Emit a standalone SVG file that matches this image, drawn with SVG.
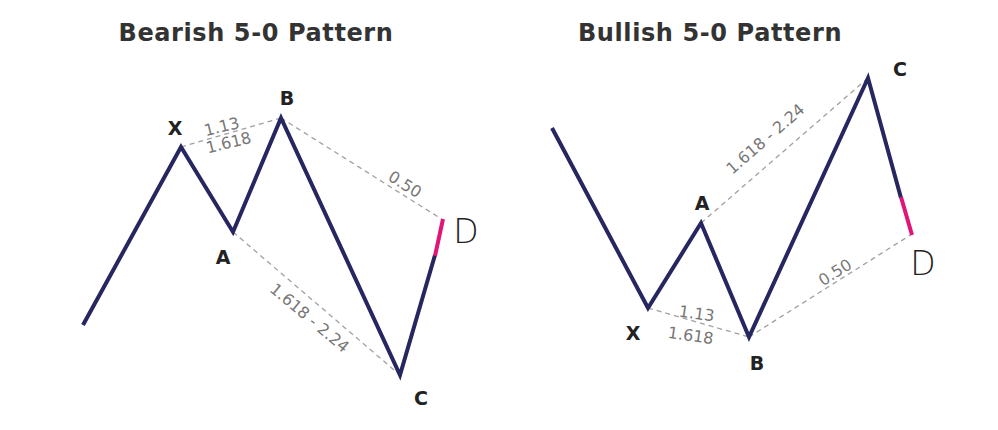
<svg xmlns="http://www.w3.org/2000/svg" width="998" height="430" viewBox="0 0 998 430">
<style>
.title{font-family:"DejaVu Sans",Verdana,sans-serif;font-weight:bold;font-size:24px;letter-spacing:0.6px;fill:#333333;text-anchor:middle}
.pt{font-family:"DejaVu Sans",Verdana,sans-serif;font-weight:bold;font-size:19px;fill:#222;text-anchor:middle}
.d{font-family:"DejaVu Sans",Verdana,sans-serif;font-weight:200;font-size:33px;fill:#222;text-anchor:middle}
.num{font-family:"DejaVu Sans",Verdana,sans-serif;font-size:16px;fill:#777;text-anchor:middle}
.wave{fill:none;stroke:#262660;stroke-width:4;stroke-linejoin:miter;stroke-linecap:butt}
.pink{fill:none;stroke:#e0157a;stroke-width:4}
.dash{fill:none;stroke:#a0a0a0;stroke-width:1.3;stroke-dasharray:5 4}
</style>
<rect width="998" height="430" fill="#ffffff"/>
<text class="title" x="256" y="41">Bearish 5-0 Pattern</text>
<text class="title" x="710" y="41">Bullish 5-0 Pattern</text>
<g id="connectors">
  <line class="dash" x1="181" y1="147" x2="281" y2="118"/>
  <line class="dash" x1="281" y1="118" x2="443" y2="220"/>
  <line class="dash" x1="233" y1="232" x2="400" y2="375"/>
  <polyline class="wave" points="83,325 181,147 233,232 281,118 400,375 435,255"/>
  <line class="pink" x1="435" y1="256" x2="443" y2="219"/>
  <line class="dash" x1="648" y1="308" x2="749" y2="337"/>
  <line class="dash" x1="701" y1="223" x2="868" y2="78"/>
  <line class="dash" x1="749" y1="337" x2="912" y2="234"/>
  <polyline class="wave" points="552,128 648,308 701,223 749,337 868,78 901,198"/>
  <line class="pink" x1="901" y1="197" x2="912" y2="235"/>
</g>
<g id="bear-X"><text class="pt" x="175" y="135">X</text></g>
<g id="bear-A"><text class="pt" x="223" y="264">A</text></g>
<g id="bear-B"><text class="pt" x="287" y="105">B</text></g>
<g id="bear-C"><text class="pt" x="421" y="405">C</text></g>
<g id="bear-D"><text class="d" x="466" y="243">D</text></g>
<g id="bear-XB"><text class="num" transform="translate(223,132) rotate(-14)">1.13</text><text class="num" transform="translate(230,148) rotate(-14)">1.618</text></g>
<g id="bear-BD"><text class="num" transform="translate(402,189) rotate(32)">0.50</text></g>
<g id="bear-AC"><text class="num" transform="translate(306,322) rotate(40)">1.618 - 2.24</text></g>
<g id="bull-X"><text class="pt" x="633" y="340">X</text></g>
<g id="bull-A"><text class="pt" x="702" y="210">A</text></g>
<g id="bull-B"><text class="pt" x="757" y="370">B</text></g>
<g id="bull-C"><text class="pt" x="900" y="76">C</text></g>
<g id="bull-D"><text class="d" x="923" y="275">D</text></g>
<g id="bull-XB"><text class="num" transform="translate(696,319) rotate(8)">1.13</text><text class="num" transform="translate(690,341) rotate(8)">1.618</text></g>
<g id="bull-AC"><text class="num" transform="translate(769,143) rotate(-41)">1.618 - 2.24</text></g>
<g id="bull-BD"><text class="num" transform="translate(838,277) rotate(-32)">0.50</text></g>
</svg>
